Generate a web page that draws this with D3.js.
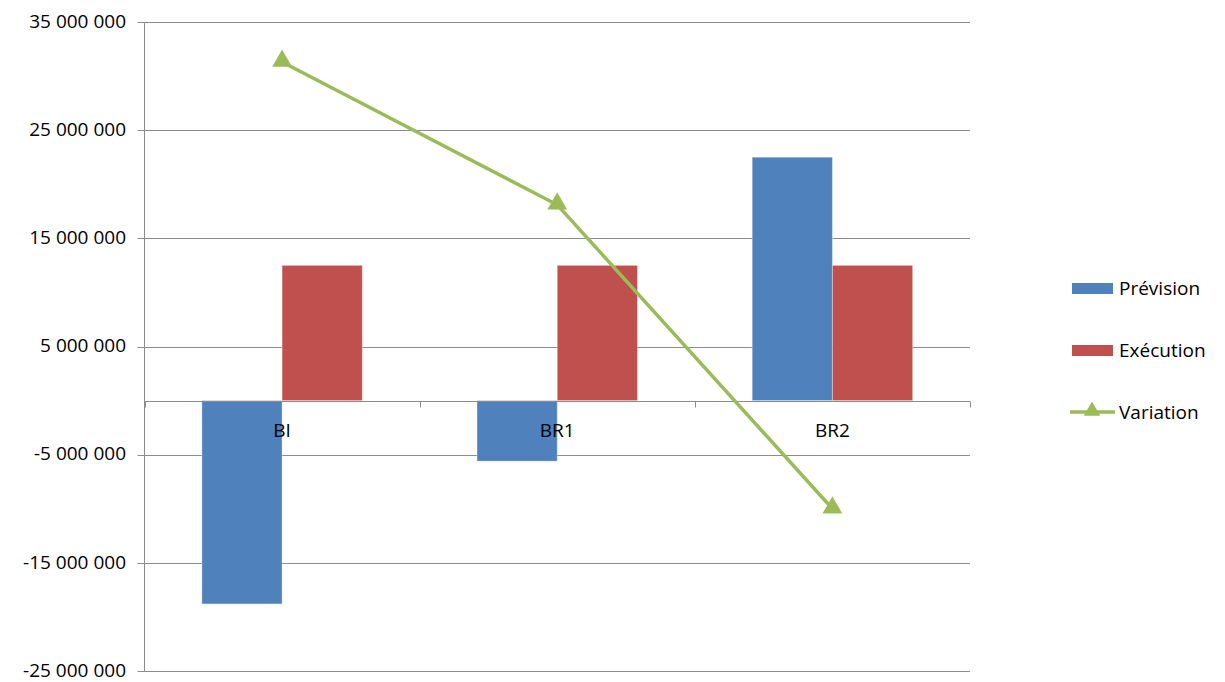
<!DOCTYPE html>
<html><head><meta charset="utf-8">
<script src="https://cdn.jsdelivr.net/npm/d3@7"></script>
<style>body{margin:0;background:#fff}svg{display:block}text{font-family:"Open Sans",sans-serif}</style>
</head><body><svg id="c" width="1225" height="682"></svg>
<script>
const categories = ["BI","BR1","BR2"];
const prevision = [-18800000, -5600000, 22500000];
const execution = [12500000, 12500000, 12500000];
const variation = [31300000, 18100000, -10000000];
const tickValues = [-25000000,-15000000,-5000000,5000000,15000000,25000000,35000000];
const seriesNames = ["Prévision","Exécution","Variation"];
const colors = ["#4F81BD","#C0504D","#9BBB59"];

const svg = d3.select("#c");
const L=144.5, R=970, T=22, B=671;
const y = d3.scaleLinear().domain([-25000000,35000000]).range([B,T]);
const x = d3.scaleBand().domain(categories).range([L,R]);
const inner = d3.scaleBand().domain([0,1]).range([0,x.bandwidth()]).paddingOuter(0.715);
const fmt = v => d3.format("-,")(v).replace(/,/g," ").replace(/\u2212/g,"-");

// gridlines
svg.append("g").selectAll("line").data(tickValues).join("line")
  .attr("x1",L-7).attr("x2",R).attr("y1",d=>Math.round(y(d))+0.5).attr("y2",d=>Math.round(y(d))+0.5)
  .attr("stroke","#8c8c8c").attr("stroke-width",1);
// y axis line
svg.append("line").attr("x1",L).attr("x2",L).attr("y1",T).attr("y2",B).attr("stroke","#8c8c8c");
// tick labels
svg.append("g").selectAll("text").data(tickValues).join("text")
  .attr("x",126).attr("y",d=>y(d)).attr("dy","0.3em").attr("text-anchor","end")
  .attr("font-size",19).attr("fill","#000").text(fmt);

// bars
const series=[prevision,execution];
series.forEach((s,si)=>{
  svg.append("g").selectAll("rect").data(s).join("rect")
    .attr("x",(d,i)=>x(categories[i])+inner(si))
    .attr("width",inner.bandwidth())
    .attr("y",d=>y(Math.max(0,d)))
    .attr("height",d=>Math.abs(y(d)-y(0)))
    .attr("fill",colors[si]).attr("stroke","rgba(255,255,255,0.35)").attr("stroke-width",1);
});

// zero axis
const y0=Math.round(y(0))+0.5;
svg.append("line").attr("x1",L).attr("x2",R).attr("y1",y0).attr("y2",y0).attr("stroke","#8c8c8c");
svg.append("g").selectAll("line").data(categories.map(c=>x(c)).concat([R])).join("line")
  .attr("x1",d=>Math.round(d)+0.5).attr("x2",d=>Math.round(d)+0.5).attr("y1",y0).attr("y2",y0+6).attr("stroke","#8c8c8c");
// category labels
svg.append("g").selectAll("text").data(categories).join("text")
  .attr("x",d=>x(d)+x.bandwidth()/2).attr("y",437).attr("text-anchor","middle")
  .attr("font-size",19).attr("fill","#000").text(d=>d);

// line
const cx = i => x(categories[i])+x.bandwidth()/2;
const line = d3.line().x((d,i)=>cx(i)).y(d=>y(d));
svg.append("path").datum(variation).attr("d",line).attr("fill","none")
  .attr("stroke",colors[2]).attr("stroke-width",3.5);
const tri = d3.symbol().type(d3.symbolTriangle).size(170);
svg.append("g").selectAll("path").data(variation).join("path")
  .attr("d",tri).attr("transform",(d,i)=>`translate(${cx(i)},${y(d)-1})`).attr("fill",colors[2]);

// legend
const lg = svg.append("g");
const ly=[288,350,412];
seriesNames.forEach((n,i)=>{
  if(i<2){
    lg.append("rect").attr("x",1072).attr("y",ly[i]-5).attr("width",41).attr("height",11).attr("fill",colors[i]);
  } else {
    lg.append("line").attr("x1",1070).attr("x2",1115).attr("y1",ly[i]).attr("y2",ly[i]).attr("stroke",colors[2]).attr("stroke-width",3.5);
    lg.append("path").attr("d",d3.symbol().type(d3.symbolTriangle).size(120)).attr("transform",`translate(1092,${ly[i]-1})`).attr("fill",colors[2]);
  }
  lg.append("text").attr("x",1119).attr("y",ly[i]).attr("dy","0.35em").attr("font-size",19).attr("fill","#000").text(n);
});
</script></body></html>
